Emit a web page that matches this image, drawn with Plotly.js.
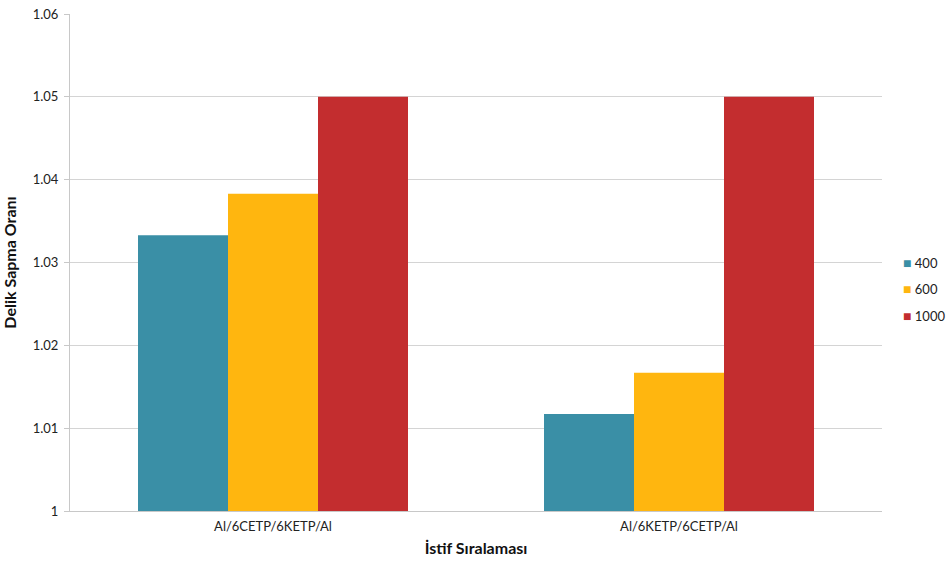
<!DOCTYPE html>
<html><head><meta charset="utf-8">
<script src="https://cdn.plot.ly/plotly-3.0.1.min.js"></script>
<style>body{margin:0;padding:0;background:#fff}#chart{width:951px;height:563px}</style>
</head><body><div id="chart"></div>
<script>
const categories = ["Al/6CETP/6KETP/Al", "Al/6KETP/6CETP/Al"];
const seriesNames = ["400", "600", "1000"];
const values400 = [1.0333, 1.0117];
const values600 = [1.0383, 1.0167];
const values1000 = [1.05, 1.05];
const colors = ["#3a8fa6", "#ffb60f", "#c32d2f"];
const allValues = [values400, values600, values1000];
const yTicks = [1, 1.01, 1.02, 1.03, 1.04, 1.05, 1.06];
const yTickLabels = ["1", "1.01", "1.02", "1.03", "1.04", "1.05", "1.06"];

const traces = allValues.map((v, i) => ({
  type: "bar", name: seriesNames[i], x: categories, y: v,
  marker: {color: colors[i]}, showlegend: false
}));

// legend drawn as annotations (swatch + label) from the series arrays
const legendAnnotations = seriesNames.map((n, i) => ({
  xref: "paper", yref: "paper", x: 1.0235, y: 0.501 - i * 0.0543,
  xanchor: "left", yanchor: "middle", showarrow: false,
  text: '<span style="color:' + colors[i] + ';font-size:14px">■</span> ' + n,
  font: {size: 13, color: "#222"}
}));

const layout = {
  width: 951, height: 563,
  margin: {l: 70, r: 69, t: 14, b: 52, autoexpand: false},
  paper_bgcolor: "#fff", plot_bgcolor: "#fff",
  font: {family: "Lato, 'Open Sans', sans-serif", size: 13, color: "#222"},
  barmode: "group", bargap: 0.335, bargroupgap: 0,
  xaxis: {
    title: {text: "<b>İstif Sıralaması</b>", font: {size: 16, color: "#111"}, standoff: 10},
    tickfont: {size: 13, color: "#222"}, ticklabelstandoff: 3,
    showline: true, linecolor: "#c8c8c8", ticks: "", showgrid: false, automargin: false
  },
  yaxis: {
    title: {text: "<b>Delik Sapma Oranı</b>", font: {size: 16, color: "#111"}, standoff: 16},
    range: [1, 1.06], tickvals: yTicks, ticktext: yTickLabels,
    tickfont: {size: 13, color: "#222"}, ticklabelstandoff: 3,
    showgrid: true, gridcolor: "#d4d4d4", gridwidth: 1,
    showline: true, linecolor: "#c8c8c8", ticks: "outside", ticklen: 5, tickcolor: "#c8c8c8",
    zeroline: false, automargin: false
  },
  annotations: legendAnnotations
};
Plotly.newPlot("chart", traces, layout, {displayModeBar: false, staticPlot: true});
</script></body></html>
